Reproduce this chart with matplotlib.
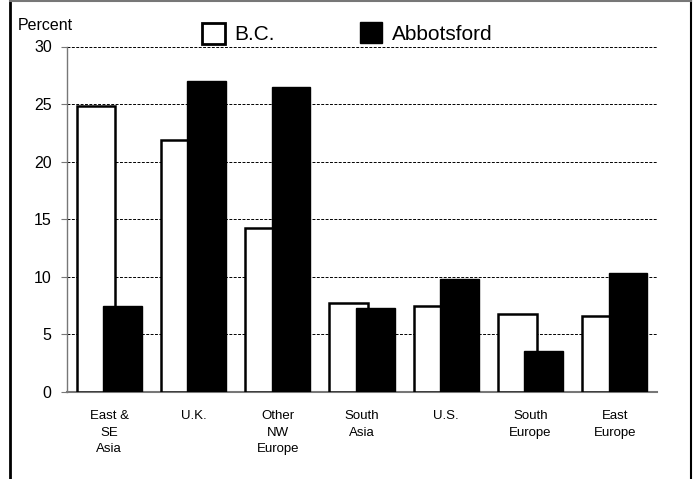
import matplotlib
matplotlib.use("Agg")
import matplotlib.pyplot as plt
from matplotlib.patches import Rectangle
from matplotlib.lines import Line2D
from matplotlib import font_manager
import numpy as np

plt.rcParams['font.family'] = ['Liberation Sans', 'DejaVu Sans']

categories = ["East &\nSE\nAsia", "U.K.", "Other\nNW\nEurope", "South\nAsia", "U.S.", "South\nEurope", "East\nEurope"]
bc = [24.8, 21.9, 14.2, 7.7, 7.5, 6.8, 6.6]
abbotsford = [7.5, 27.0, 26.5, 7.3, 9.8, 3.6, 10.3]
yticks = [0, 5, 10, 15, 20, 25, 30]

names = {f.name for f in font_manager.fontManager.ttflist}
legend_family = ['Liberation Sans Narrow'] if 'Liberation Sans Narrow' in names else ['Liberation Sans']
legend_size = 17.5 if 'Liberation Sans Narrow' in names else 15

W, H = 694, 479
fig = plt.figure(figsize=(W / 100, H / 100), dpi=100)
ax = fig.add_axes([67 / W, 1 - 392 / H, (657 - 67) / W, (392 - 46.5) / H])

x = np.arange(len(categories))
off = 0.157
w = 0.46
ax.bar(x - off, bc, width=w, color='white', edgecolor='black', linewidth=1.8, zorder=3)
ax.bar(x + off, abbotsford, width=w, color='black', edgecolor='black', linewidth=1.0, zorder=4)

ax.set_xlim(-0.5, len(categories) - 0.5)
ax.set_ylim(0, 30)
ax.set_yticks(yticks)
ax.set_yticklabels([str(t) for t in yticks], fontsize=11.5)
ax.yaxis.grid(True, linestyle=(0, (3, 1.5)), color='black', linewidth=0.7, zorder=0)
ax.set_axisbelow(True)
ax.set_xticks(x)
ax.set_xticklabels(categories, fontsize=9.5, linespacing=1.5)
ax.tick_params(axis='x', length=0, pad=13)
ax.tick_params(axis='y', length=4, width=0.8, color='#777777', pad=7)
for s in ['top', 'right']:
    ax.spines[s].set_visible(False)
ax.spines['left'].set_color('#777777')
ax.spines['bottom'].set_color('#777777')
ax.spines['left'].set_linewidth(1.0)
ax.spines['bottom'].set_linewidth(1.5)

fig.text(18 / W, 1 - 25 / H, "Percent", fontsize=11.5, va='center', ha='left')

# legend
fig.patches.append(Rectangle((202 / W, 1 - 44 / H), 23 / W, 21.5 / H, transform=fig.transFigure,
                             facecolor='white', edgecolor='black', linewidth=2.0))
fig.text(234 / W, 1 - 34 / H, "B.C.", fontsize=legend_size, family=legend_family, va='center', ha='left')
fig.patches.append(Rectangle((360 / W, 1 - 43.5 / H), 22 / W, 21.5 / H, transform=fig.transFigure,
                             facecolor='black', edgecolor='black', linewidth=1.0))
fig.text(392 / W, 1 - 34 / H, "Abbotsford", fontsize=legend_size, family=legend_family, va='center', ha='left')

# outer frame
fig.lines.append(Line2D([9.5 / W, 9.5 / W], [0, 1], transform=fig.transFigure, color='black', linewidth=2))
fig.lines.append(Line2D([690.5 / W, 690.5 / W], [0, 1], transform=fig.transFigure, color='black', linewidth=1.5))
fig.lines.append(Line2D([9.5 / W, 690.5 / W], [1 - 0.8 / H, 1 - 0.8 / H], transform=fig.transFigure, color='#777777', linewidth=1.5))

fig.savefig("out.png", dpi=100)
